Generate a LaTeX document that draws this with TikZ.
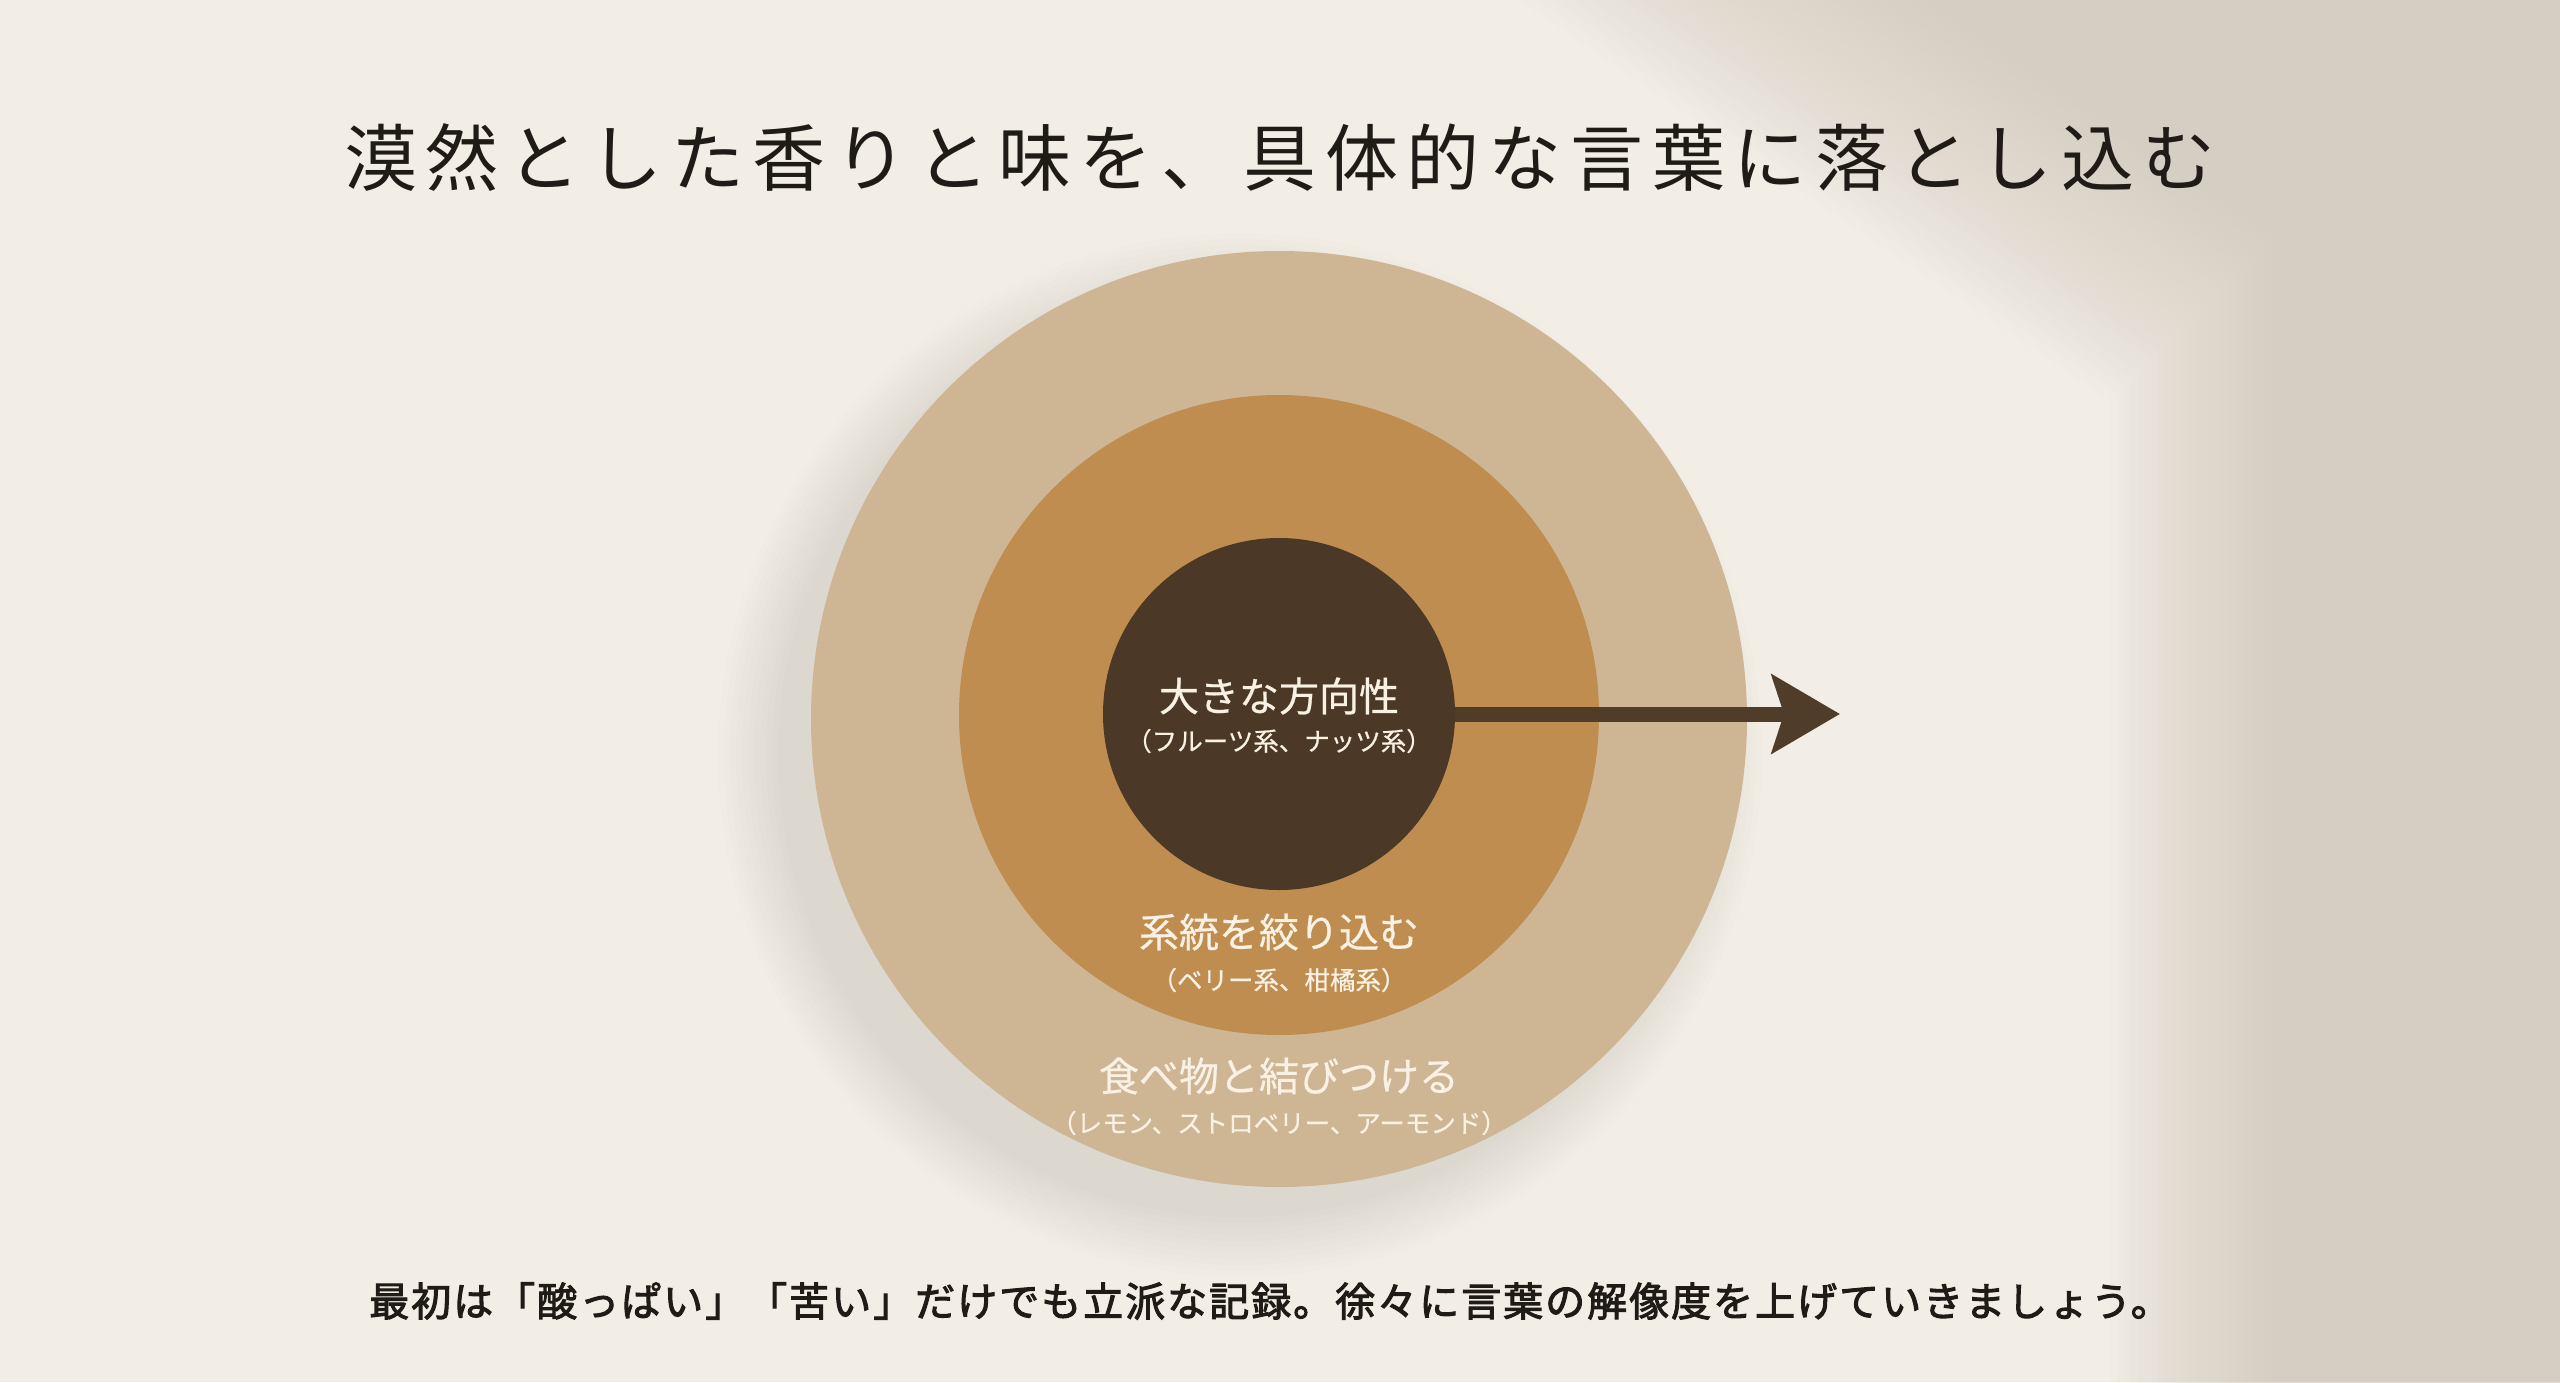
\documentclass[tikz,border=0pt]{standalone}
\usepackage{fontspec}
\newfontfamily\jp{Noto Sans CJK JP}[FakeBold=0.6]
\newfontfamily\jptitle{Noto Sans CJK JP}[LetterSpace=12]
\newfontfamily\jpbottom{Noto Sans CJK JP}[LetterSpace=5, FakeBold=2.5]
\usetikzlibrary{arrows.meta}
\definecolor{bgc}{HTML}{F2EEE6}
\definecolor{shadowc}{HTML}{D2C7BA}
\definecolor{outerc}{HTML}{CEB695}
\definecolor{midc}{HTML}{BF8D4F}
\definecolor{innerc}{HTML}{4B3826}
\definecolor{arrowc}{HTML}{4F3C29}
\definecolor{labelc}{HTML}{F8F1E4}
\definecolor{titlec}{HTML}{1F1B17}
\tikzset{
  ring/.style={circle, inner sep=0pt, draw=none},
  mainlabel/.style={text=labelc, font=\jp\fontsize{40pt}{44pt}\selectfont, inner sep=0pt},
  sublabel/.style={text=labelc, font=\jp\fontsize{25.5pt}{28pt}\selectfont, inner sep=0pt},
  pointer/.style={draw=arrowc, line width=15pt, -{Stealth[length=68pt, width=78pt, inset=12pt, fill=arrowc]}}
}
\begin{document}
\begin{tikzpicture}[x=1pt,y=-1pt]
\useasboundingbox (0,0) rectangle (2560,1382);
\fill[bgc] (0,0) rectangle (2560,1382);
% window light / wall shadow
\foreach \k in {0,...,23}{
  \fill[shadowc, opacity=0.045, shift={(7*\k,-7*\k)}]
    (1150,-250) -- (2900,-250) -- (2900,1700) -- (2110,1700) -- (2110,400) -- cycle;
}
% soft cast shadow of the disc
\foreach \k in {0,...,10}{
  \fill[black, opacity=0.008] (1240,755) circle (462+6*\k);
}
% title
\node[text=titlec, font=\jptitle\fontsize{73pt}{80pt}\selectfont, inner sep=0pt] (title) at (1280,158) {漠然とした香りと味を、具体的な言葉に落とし込む};
% discs
\node[ring, fill=outerc, minimum size=936pt] (outer) at (1279,719) {};
\node[ring, fill=midc, minimum size=640pt] (middle) at (1279,715) {};
\node[ring, fill=innerc, minimum size=352pt] (inner) at (1279,714) {};
% arrow
\coordinate (tip) at (1840,714);
\draw[pointer] (inner.east) -- (tip);
% labels
\node[mainlabel] (l1) at (1279,696) {大きな方向性};
\node[sublabel] (s1) at (1279,741) {（フルーツ系、ナッツ系）};
\node[mainlabel] (l2) at (1279,932) {系統を絞り込む};
\node[sublabel] (s2) at (1279,980) {（ベリー系、柑橘系）};
\node[mainlabel] (l3) at (1279,1076) {食べ物と結びつける};
\node[sublabel] (s3) at (1279,1123) {（レモン、ストロベリー、アーモンド）};
% bottom note
\node[text=titlec, font=\jpbottom\fontsize{40pt}{46pt}\selectfont, inner sep=0pt] (note) at (1270,1301) {最初は「酸っぱい」「苦い」だけでも立派な記録。徐々に言葉の解像度を上げていきましょう。};
\end{tikzpicture}
\end{document}
